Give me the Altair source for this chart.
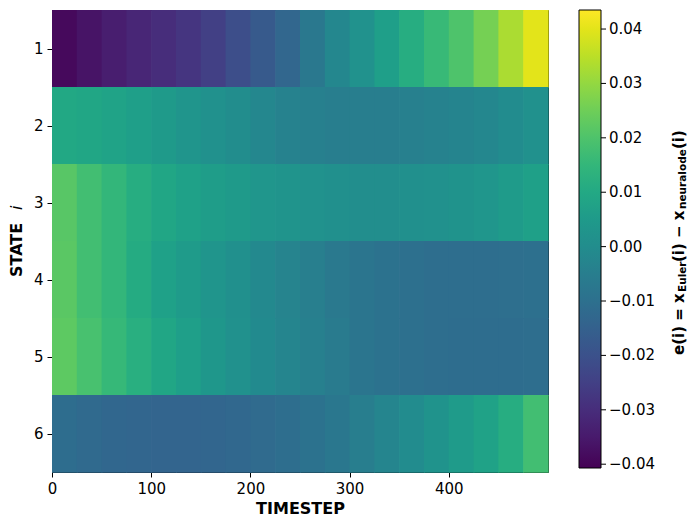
import altair as alt
import pandas as pd

# timestep bins (start of each 25-step bin)
BIN_START = [0, 25, 50, 75, 100, 125, 150, 175, 200, 225,
             250, 275, 300, 325, 350, 375, 400, 425, 450, 475]
BIN_WIDTH = 25
STATES = [1, 2, 3, 4, 5, 6]

ROW1 = [-0.039, -0.0365, -0.034, -0.032, -0.030, -0.028, -0.025, -0.021, -0.017, -0.013,
        -0.007, -0.002, 0.002, 0.0065, 0.0115, 0.016, 0.020, 0.026, 0.033, 0.040]
ROW2 = [0.0098, 0.009, 0.008, 0.0065, 0.0048, 0.003, 0.0014, 0.0, -0.002, -0.0037,
        -0.0045, -0.0053, -0.0053, -0.0053, -0.0045, -0.0037, -0.003, -0.002, -0.0003, 0.0014]
ROW3 = [0.0216, 0.018, 0.0149, 0.0115, 0.009, 0.0073, 0.006, 0.0048, 0.0035, 0.0027,
        0.0018, 0.001, 0.0006, 0.0006, 0.001, 0.0014, 0.0022, 0.0035, 0.0052, 0.0069]
ROW4 = [0.022, 0.018, 0.0149, 0.0107, 0.0073, 0.0052, 0.0031, 0.001, -0.0011, -0.0032,
        -0.0049, -0.0066, -0.0079, -0.0091, -0.0100, -0.0104, -0.0104, -0.0104, -0.0102, -0.0100]
ROW5 = [0.0225, 0.019, 0.0157, 0.0123, 0.009, 0.0065, 0.004, 0.0014, -0.0007, -0.0028,
        -0.0045, -0.0062, -0.0079, -0.0091, -0.0100, -0.0104, -0.0108, -0.0108, -0.0108, -0.0104]
ROW6 = [-0.0108, -0.012, -0.0129, -0.0133, -0.0137, -0.0137, -0.0133, -0.0125, -0.0117, -0.0104,
        -0.0091, -0.0074, -0.0053, -0.0028, -0.0003, 0.0022, 0.0052, 0.0077, 0.0115, 0.018]

ROWS = [ROW1, ROW2, ROW3, ROW4, ROW5, ROW6]
COLOR_DOMAIN = [-0.0407, 0.0435]
CBAR_TICKS = [-0.04, -0.03, -0.02, -0.01, 0.0, 0.01, 0.02, 0.03, 0.04]
X_TICKS = [0, 100, 200, 300, 400]

records = []
for s, row in zip(STATES, ROWS):
    for t0, v in zip(BIN_START, row):
        records.append({"t0": t0, "t1": t0 + BIN_WIDTH, "s0": s - 0.5, "s1": s + 0.5, "value": v})
df = pd.DataFrame(records)

FONT = "DejaVu Sans"
CBAR_X = 527       # colorbar left edge, relative to plot
CBAR_W = 22
CBAR_LEN = 458

heat = alt.Chart(df).mark_rect(x2Offset=0.7, y2Offset=0.7).encode(
    x=alt.X("t0:Q", scale=alt.Scale(domain=[0, 500], nice=False, zero=False),
            axis=alt.Axis(values=X_TICKS, title="TIMESTEP", format="d", labelFlush=False)),
    x2="t1:Q",
    y=alt.Y("s0:Q", scale=alt.Scale(domain=[0.5, 6.5], reverse=True, nice=False, zero=False),
            axis=alt.Axis(values=STATES, title=None, format="d", labelFlush=False)),
    y2="s1:Q",
    color=alt.Color("value:Q", scale=alt.Scale(scheme="viridis", domain=COLOR_DOMAIN),
                    legend=alt.Legend(type="gradient", title=None, orient="none",
                                      legendX=CBAR_X, legendY=0, direction="vertical",
                                      gradientLength=CBAR_LEN, gradientThickness=CBAR_W,
                                      gradientStrokeColor="black", gradientStrokeWidth=1,
                                      values=CBAR_TICKS, format=".2f",
                                      labelFontSize=15, labelFont=FONT, labelColor="black",
                                      labelOffset=8, labelOverlap=False)),
)

cbar_ticks = alt.Chart(pd.DataFrame({"tick": CBAR_TICKS})).mark_rule(
    color="black", strokeWidth=1
).encode(
    y=alt.Y("tick:Q", scale=alt.Scale(domain=COLOR_DOMAIN, range=[CBAR_LEN, 0], nice=False, zero=False),
            axis=None),
    x=alt.value(CBAR_X + CBAR_W),
    x2=alt.value(CBAR_X + CBAR_W + 5),
)

one = pd.DataFrame({"k": [0]})

def txt(text, x, y, size, weight="bold", style="normal"):
    return alt.Chart(one).mark_text(
        text=text, angle=270, align="left", baseline="middle",
        font=FONT, fontSize=size, fontWeight=weight, fontStyle=style, color="black"
    ).encode(x=alt.value(x), y=alt.value(y))

labels = [
    txt("STATE", -35, 267, 16),
    txt("i", -35, 200, 16, weight="normal", style="italic"),
    txt("e(i) = x", 627, 345, 15),
    txt("Euler", 631, 282, 10.5),
    txt("(i) \u2212 x", 627, 252, 15),
    txt("neuralode", 631, 199, 10.5),
    txt("(i)", 627, 139, 15),
]

chart = alt.layer(heat, cbar_ticks, *labels).resolve_scale(y="independent").properties(
    width=496, height=462,
    autosize=alt.AutoSizeParams(type="none"),
    padding={"left": 44, "top": 2, "right": 140, "bottom": 55},
).configure_view(
    stroke="black", strokeWidth=1
).configure_axis(
    labelFont=FONT, labelFontSize=15, labelColor="black",
    titleFont=FONT, titleFontSize=16, titleFontWeight="bold", titleColor="black",
    tickColor="black", tickSize=5, tickWidth=1, domain=False, grid=False,
    labelPadding=4,
).configure_axisX(titlePadding=4)

chart.save("out.html", embed_options={"renderer": "svg", "actions": False})
